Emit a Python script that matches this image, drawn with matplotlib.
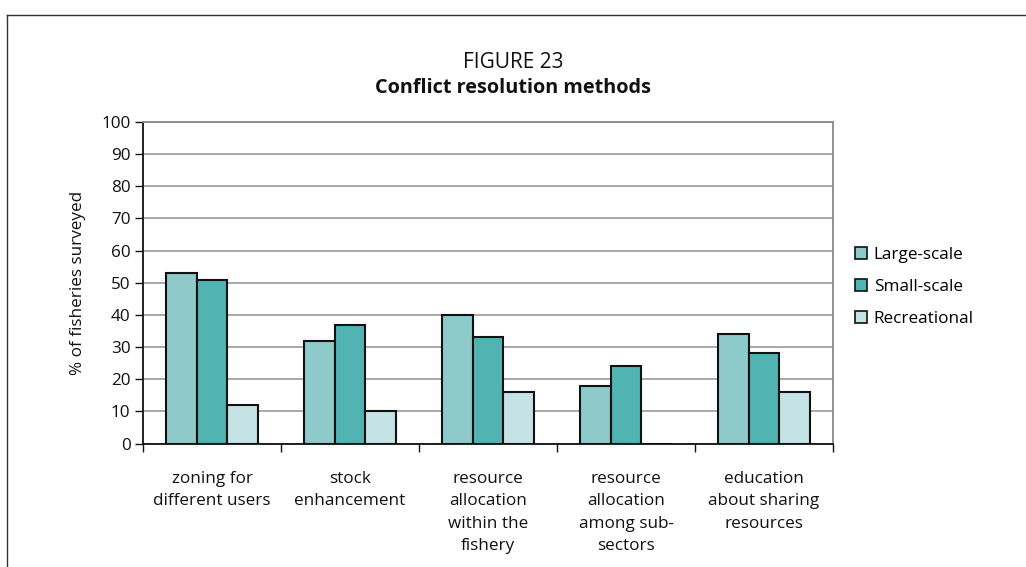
import matplotlib
matplotlib.use("Agg")
import matplotlib.pyplot as plt
from matplotlib.lines import Line2D
from matplotlib.patches import Patch
import numpy as np

plt.rcParams['font.family'] = ['Open Sans', 'DejaVu Sans']

categories = [
    "zoning for\ndifferent users",
    "stock\nenhancement",
    "resource\nallocation\nwithin the\nfishery",
    "resource\nallocation\namong sub-\nsectors",
    "education\nabout sharing\nresources",
]
series_names = ["Large-scale", "Small-scale", "Recreational"]
large_scale = [53, 32, 40, 18, 34]
small_scale = [51, 37, 33, 24, 28]
recreational = [12, 10, 16, 0, 16]
series_values = [large_scale, small_scale, recreational]
colors = ["#8fcaca", "#52b3b3", "#c5e2e4"]
y_ticks = list(range(0, 101, 10))

W, H = 1026, 567
FS = 12.3
fig = plt.figure(figsize=(W / 100, H / 100), dpi=100)
fig.patch.set_facecolor("white")

# outer frame: only left and top edges fall inside the page
fig.add_artist(Line2D([7 / W, 7 / W], [0, 1 - 15 / H], transform=fig.transFigure,
                      color="#333333", lw=1.0))
fig.add_artist(Line2D([7 / W, 1], [1 - 15 / H, 1 - 15 / H], transform=fig.transFigure,
                      color="#333333", lw=1.0))

ax = fig.add_axes([143 / W, 1 - 443.5 / H, (833 - 143) / W, (443.5 - 122) / H])

n = len(categories)
x = np.arange(n)
bw = 0.222
for i, (vals, c, name) in enumerate(zip(series_values, colors, series_names)):
    ax.bar(x + (i - 1) * bw, vals, width=bw, color=c, edgecolor="#111111",
           linewidth=1.5, label=name, zorder=3)

ax.set_xlim(-0.5, n - 0.5)
ax.set_ylim(0, 100)
ax.set_yticks(y_ticks)
ax.tick_params(axis="y", direction="out", length=6, width=1, labelsize=FS, pad=3,
               colors="#111111")
ax.yaxis.grid(True, color="#9a9a9a", lw=1.2, zorder=0)
ax.set_axisbelow(True)

# category boundaries carry the tick marks; labels sit at the centres
ax.set_xticks(np.arange(-0.5, n, 1.0))
ax.set_xticklabels([])
ax.tick_params(axis="x", direction="out", length=6, width=1, colors="#111111")
for xi, lab in zip(x, categories):
    ax.text(xi, -8.5, lab, ha="center", va="top", fontsize=FS, linespacing=1.545,
            color="#111111", transform=ax.transData)

for side in ("left", "bottom"):
    ax.spines[side].set_color("#111111")
    ax.spines[side].set_linewidth(1.3)
for side in ("top", "right"):
    ax.spines[side].set_color("#8a8a8a")
    ax.spines[side].set_linewidth(1.3)

ax.set_ylabel("% of fisheries surveyed", fontsize=FS, color="#111111", labelpad=11)

fig.text(513 / W, 1 - 62 / H, "FIGURE 23", ha="center", va="center", fontsize=15,
         color="#111111")
fig.text(513 / W, 1 - 88 / H, "Conflict resolution methods", ha="center", va="center",
         fontsize=14.3, fontweight="bold", color="#111111")

handles = [Patch(facecolor=c, edgecolor="#111111", linewidth=1.2) for c in colors]
leg = fig.legend(handles, series_names, loc="center left",
                 bbox_to_anchor=(855 / W, 1 - 287 / H), frameon=False, fontsize=FS,
                 handlelength=0.7, handleheight=0.7, handletextpad=0.4,
                 labelspacing=0.95, borderaxespad=0, borderpad=0)

fig.savefig("out.png", dpi=100, facecolor="white")
